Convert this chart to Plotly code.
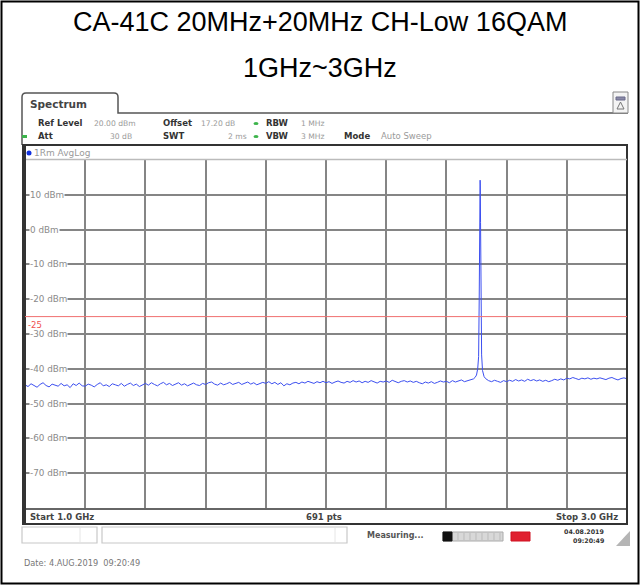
import numpy as np
import plotly.graph_objects as go

# ---------------- data ----------------
TITLE_LINE1 = "CA-41C 20MHz+20MHz CH-Low 16QAM"
TITLE_LINE2 = "1GHz~3GHz"
START_GHZ = 1.0
STOP_GHZ = 3.0
REF_LEVEL_DBM = 20
BOTTOM_DBM = -80
LIMIT_DBM = -25
Y_TICKS = [10, 0, -10, -20, -30, -40, -50, -60, -70]
Y_TICK_LABELS = ["10 dBm", "0 dBm", "-10 dBm", "-20 dBm", "-30 dBm", "-40 dBm",
                 "-50 dBm", "-60 dBm", "-70 dBm"]

# noise floor read every 10 MHz from 1.00 GHz to 3.00 GHz (dBm)
noise_dbm = [
    -44.6, -45.1, -44.3, -44.9, -45.3, -44.5, -44.0, -44.8, -45.2, -44.4,
    -44.7, -45.0, -44.2, -44.9, -44.6, -45.4, -44.3, -44.8, -44.1, -44.9,
    -45.0, -44.4, -44.7, -45.2, -44.5, -44.0, -44.9, -44.6, -45.1, -44.3,
    -44.6, -44.9, -44.2, -45.0, -44.5, -44.1, -44.8, -44.4, -45.1, -44.6,
    -44.2, -44.7, -44.0, -44.5, -44.9, -44.3, -43.9, -44.6, -44.2, -44.8,
    -44.4, -44.0, -44.7, -44.3, -44.9, -44.5, -44.1, -44.6, -44.8, -44.2,
    -44.5, -44.0, -43.8, -44.4, -44.7, -44.1, -44.6, -44.3, -43.9, -44.5,
    -44.2, -43.9, -44.5, -44.1, -43.8, -44.4, -44.0, -44.6, -44.3, -43.9,
    -44.2, -43.7, -44.3, -43.9, -44.5, -44.0, -44.9, -44.3, -44.6, -44.1,
    -43.9, -44.3, -43.8, -44.1, -43.6, -44.0, -44.2, -43.7, -44.0, -43.6,
    -44.0, -43.7, -44.2, -43.8, -43.5, -43.9, -44.1, -43.6, -43.9, -43.4,
    -43.8, -43.5, -44.0, -43.6, -43.9, -43.4, -43.7, -44.1, -43.6, -43.8,
    -43.5, -43.9, -43.3, -43.7, -44.0, -43.6, -43.4, -43.8, -43.5, -43.9,
    -43.6, -44.0, -44.3, -43.8, -44.1, -43.7, -44.2, -43.9, -43.5, -43.8,
    -43.6, -44.0, -43.4, -43.8, -43.5, -43.2, -43.7, -43.4, -43.1, -42.9,
    -42.7, -42.6, -42.8, -42.8, -43.4, -43.7, -43.3, -43.6, -43.9, -43.4,
    -43.7, -43.3, -43.6, -43.1, -43.5, -43.2, -43.6, -43.0, -43.4, -43.1,
    -43.5, -43.2, -43.6, -43.3, -43.7, -43.4, -43.0, -43.3, -42.9, -43.2,
    -42.7, -42.9, -42.5, -42.8, -43.1, -42.7, -42.9, -42.6, -43.0, -42.7,
    -42.9, -42.6, -42.8, -43.1, -42.7, -42.5, -42.9, -43.2, -42.8, -42.6,
    -42.9,
]

# carrier peak near 2.512 GHz
peak_ghz = [2.495, 2.500, 2.504, 2.507, 2.509, 2.5105, 2.5115, 2.512, 2.5125,
            2.5135, 2.515, 2.517, 2.520, 2.525]
peak_dbm = [-42.5, -41.8, -40.0, -36.5, -20.0, 0.0, 12.5, 14.2, 12.8,
            2.0, -18.0, -36.0, -40.5, -42.2]

noise_ghz = np.linspace(START_GHZ, STOP_GHZ, len(noise_dbm))
pts = [(f, v) for f, v in zip(noise_ghz, noise_dbm) if not (2.494 < f < 2.53)]
pts += list(zip(peak_ghz, peak_dbm))
pts.sort()
freq = [p[0] for p in pts]
level = [p[1] for p in pts]

# ---------------- layout helpers (pixel -> paper) ----------------
W, H = 640, 585
L, R, T, B = 25, 627, 160, 508


def px(x):
    return (x - L) / (R - L)


def py(y):
    return (B - y) / (B - T)


shapes = []
annots = []


def rect(x0, y0, x1, y1, color="#333", width=1, fill=None, layer="above"):
    shapes.append(dict(type="rect", xref="paper", yref="paper",
                       x0=px(x0), x1=px(x1), y0=py(y0), y1=py(y1),
                       line=dict(color=color, width=width),
                       fillcolor=fill, layer=layer))


def line(x0, y0, x1, y1, color="#333", width=1):
    shapes.append(dict(type="line", xref="paper", yref="paper",
                       x0=px(x0), x1=px(x1), y0=py(y0), y1=py(y1),
                       line=dict(color=color, width=width), layer="above"))


def text(x, y, s, size=7.5, color="#333", anchor="left", bold=False,
         family="DejaVu Sans", bg=None):
    if bold:
        s = "<b>" + s + "</b>"
    annots.append(dict(xref="paper", yref="paper", x=px(x), y=py(y), text=s,
                       showarrow=False, xanchor=anchor, yanchor="middle",
                       font=dict(size=size, color=color, family=family),
                       bgcolor=bg, borderpad=0))


# outer page border
rect(1.5, 1.5, 638.5, 583.5, color="#000", width=2)

# titles
text(320, 22, TITLE_LINE1, size=27, color="#000", anchor="center",
     family="Liberation Sans, Arial")
text(320, 68, TITLE_LINE2, size=27, color="#000", anchor="center",
     family="Liberation Sans, Arial")

# spectrum tab + panel line
path = (f"M {px(22)},{py(145)} L {px(22)},{py(97)} Q {px(22)},{py(93)} {px(26)},{py(93)} "
        f"L {px(114)},{py(93)} Q {px(118)},{py(93)} {px(118)},{py(97)} "
        f"L {px(118)},{py(113)} L {px(628)},{py(113)}")
shapes.append(dict(type="path", xref="paper", yref="paper", path=path,
                   line=dict(color="#555", width=1.5), layer="above"))
text(29, 104, "Spectrum", size=10.5, color="#444", bold=True)

# top-right icon
rect(613, 92, 628, 113, color="#888", width=1, fill="#f4f4f4")
rect(616, 97, 625, 100, color="#6a6a8a", width=1, fill="#8a8aa8")
shapes.append(dict(type="path", xref="paper", yref="paper",
                   path=f"M {px(620.5)},{py(102)} L {px(617)},{py(109)} L {px(624)},{py(109)} Z",
                   line=dict(color="#777", width=1), fillcolor="rgba(0,0,0,0)"))

# header rows
GRAY = "#9a9a9a"
DARK = "#333"
LB = 8.5   # bold label size
VS = 7.6   # value size
text(37, 123, "Ref Level", size=LB, color=DARK, bold=True)
text(93, 123, "20.00 dBm", size=VS, color=GRAY)
text(162, 123, "Offset", size=LB, color=DARK, bold=True)
text(200, 123, "17.20 dB", size=VS, color=GRAY)
text(265, 123, "RBW", size=LB, color=DARK, bold=True)
text(300, 123, "1 MHz", size=VS, color=GRAY)
text(37, 136, "Att", size=LB, color=DARK, bold=True)
text(133, 136, "30 dB", size=VS, color=GRAY, anchor="right")
text(162, 136, "SWT", size=LB, color=DARK, bold=True)
text(248, 136, "2 ms", size=VS, color=GRAY, anchor="right")
text(265, 136, "VBW", size=LB, color=DARK, bold=True)
text(300, 136, "3 MHz", size=VS, color=GRAY)
text(343, 136, "Mode", size=LB, color=DARK, bold=True)
text(380, 136, "Auto Sweep", size=8.5, color=GRAY)
# green status dots
for (cx, cy) in [(256, 123.5), (256, 136.5)]:
    shapes.append(dict(type="circle", xref="paper", yref="paper",
                       x0=px(cx - 2.5), x1=px(cx + 2.5), y0=py(cy + 1.5), y1=py(cy - 1.5),
                       fillcolor="#3cb44b", line=dict(width=0), layer="above"))
line(22, 136.5, 27, 136.5, color="#3cb44b", width=3)

# diagram frame
rect(23, 145, 627, 524, color="#333", width=2)
line(24, 159.5, 627, 159.5, color="#bbb", width=1.5)
line(24, 509, 627, 509, color="#333", width=1.5)
line(24.5, 145, 24.5, 524, color="#333", width=3)
# trace label
shapes.append(dict(type="circle", xref="paper", yref="paper",
                   x0=px(26.5), x1=px(31.5), y0=py(155.5), y1=py(150.5),
                   fillcolor="#1030e0", line=dict(width=0), layer="above"))
text(33, 153, "1Rm AvgLog", size=9, color=GRAY)

# bottom info row
text(29, 516.5, "Start 1.0 GHz", size=8.5, color="#444", bold=True)
text(324, 516.5, "691 pts", size=8.5, color="#444", anchor="center", bold=True)
text(619, 516.5, "Stop 3.0 GHz", size=8.5, color="#444", anchor="right", bold=True)

# status bar
for (a, b) in [(22, 97), (102, 347)]:
    shapes.append(dict(type="rect", xref="paper", yref="paper",
                       x0=px(a), x1=px(b), y0=py(527), y1=py(543),
                       line=dict(color="#c8c8c8", width=1.2), layer="above"))
line(80, 528, 80, 542, color="#e6e6e6", width=1)
line(335, 528, 335, 542, color="#e6e6e6", width=1)
text(366, 535, "Measuring...", size=8, color="#555", bold=True)
rect(443, 532, 503, 541, color="#aaa", width=1, fill="#d8d8d8")
rect(443, 532, 452, 541, color="#111", width=1, fill="#111")
for xs in range(458, 503, 6):
    line(xs, 533, xs, 540, color="#bbb", width=1)
rect(511, 532, 530, 541, color="#d01020", width=1, fill="#e02030")
text(605, 531, "04.08.2019", size=6.3, color="#333", anchor="right", bold=True)
text(605, 540, "09:20:49", size=6.3, color="#333", anchor="right", bold=True)
shapes.append(dict(type="path", xref="paper", yref="paper",
                   path=f"M {px(630)},{py(531)} L {px(630)},{py(546)} L {px(616)},{py(546)} Z",
                   fillcolor="#b5b5b5", line=dict(width=0), layer="above"))

# footer date
text(23, 563, "Date: 4.AUG.2019  09:20:49", size=8.2, color="#777")

# limit line
shapes.append(dict(type="line", xref="paper", yref="y", x0=0, x1=1,
                   y0=LIMIT_DBM, y1=LIMIT_DBM,
                   line=dict(color="#f07070", width=1), layer="above"))
annots.append(dict(xref="paper", yref="y", x=px(25.5), y=LIMIT_DBM, text=str(LIMIT_DBM),
                   showarrow=False, xanchor="left", yanchor="top", yshift=-1,
                   font=dict(size=8.5, color="#f05050", family="DejaVu Sans")))

# y tick labels (inside the grid, covering the gridline)
for v, lab in zip(Y_TICKS, Y_TICK_LABELS):
    annots.append(dict(xref="paper", yref="y", x=px(29), y=v, text=lab,
                       showarrow=False, xanchor="left", yanchor="middle",
                       font=dict(size=8.8, color="#8a8a8a", family="DejaVu Sans"),
                       bgcolor="white", borderpad=0))

fig = go.Figure()
fig.add_trace(go.Scatter(x=freq, y=level, mode="lines",
                         line=dict(color="#3c4ff0", width=1), hoverinfo="skip",
                         showlegend=False))

fig.update_layout(
    width=W, height=H,
    margin=dict(l=L, r=W - R, t=T, b=H - B, pad=0),
    paper_bgcolor="white", plot_bgcolor="white",
    xaxis=dict(range=[START_GHZ, STOP_GHZ], showticklabels=False, ticks="",
               showgrid=True, gridcolor="#858585", gridwidth=1.6,
               tick0=START_GHZ, dtick=(STOP_GHZ - START_GHZ) / 10,
               zeroline=False, showline=False, fixedrange=True),
    yaxis=dict(range=[BOTTOM_DBM, REF_LEVEL_DBM], showticklabels=False, ticks="",
               showgrid=True, gridcolor="#858585", gridwidth=1.6,
               tick0=0, dtick=10, zeroline=False, showline=False, fixedrange=True),
    shapes=shapes, annotations=annots,
)

fig.write_html("out.html", config={"displayModeBar": False},
               post_script="document.body.style.margin='0';")
